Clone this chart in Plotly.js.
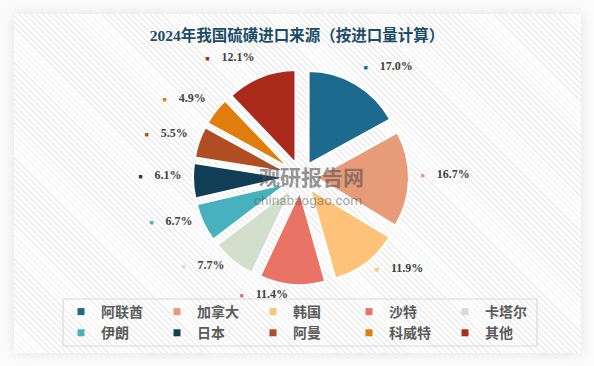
<!DOCTYPE html>
<html>
<head>
<meta charset="utf-8">
<script src="https://cdn.plot.ly/plotly-3.0.1.min.js"></script>
<style>
  html, body { margin: 0; padding: 0; background: #ffffff; }
  #wrap { position: relative; width: 594px; height: 366px; overflow: hidden; background: #fbfbfb; }
  #card {
    position: absolute; left: 14px; top: 14px; width: 567px; height: 339px;
    background-color: #ffffff;
    background-image: repeating-linear-gradient(45deg, #ffffff 0px, #ffffff 3px, #ececec 3px, #ececec 4.2px);
    box-shadow: 0 0 12px rgba(0,0,0,0.10);
  }
  #chart { position: absolute; left: 0; top: 0; width: 594px; height: 366px; }
</style>
</head>
<body>
<div id="wrap">
  <div id="card"></div>
  <div id="chart"></div>
</div>
<script>
// ---- data ----
const categories = ["阿联酋", "加拿大", "韩国", "沙特", "卡塔尔", "伊朗", "日本", "阿曼", "科威特", "其他"];
const shares = [17.0, 16.7, 11.9, 11.4, 7.7, 6.7, 6.1, 5.5, 4.9, 12.1];
const colors = ["#1c6b8e", "#e89b79", "#fec278", "#e97364", "#d1dfcc", "#47b2be", "#0f3e56", "#b04d22", "#e07d0b", "#aa2a1b"];
const chartTitle = "2024年我国硫磺进口来源（按进口量计算）";

// ---- geometry helpers (layout only) ----
const W = 594, H = 366, ML = 40, MR = 40;
const PW = W - ML - MR;
const fx = px => (px - ML) / PW;
const fy = py => (H - py) / H;

// ---- labels built from data ----
const labelText = shares.map((v, i) =>
  '<span style="color:' + colors[i] + ';font-size:7px">■</span>    ' + v.toFixed(1) + '%');

const pieTrace = {
  type: "pie",
  labels: categories,
  values: shares,
  textinfo: "none",
  sort: false,
  direction: "clockwise",
  rotation: 0,
  pull: 0.16,
  showlegend: false,
  hoverinfo: "label+percent",
  marker: { colors: colors, line: { color: "#ffffff", width: 2 } },
  domain: { x: [fx(193), fx(409)], y: [fy(285), fy(69)] },
  automargin: false
};

// same data, transparent wedges, used only to place the outside value labels a bit farther out
const labelPie = {
  type: "pie",
  labels: categories,
  values: shares,
  text: labelText,
  textinfo: "text",
  textposition: "outside",
  sort: false,
  direction: "clockwise",
  rotation: 0,
  pull: 0.16,
  showlegend: false,
  hoverinfo: "skip",
  marker: { colors: categories.map(() => "rgba(0,0,0,0)"), line: { width: 0 } },
  outsidetextfont: { family: '"Liberation Serif", "DejaVu Serif", serif', size: 12, color: "#404040", weight: "bold" },
  domain: { x: [fx(185), fx(417)], y: [fy(287), fy(55)] },
  automargin: false
};

// legend entries (one per category)
const legendTraces = categories.map((c, i) => ({
  type: "scatter",
  mode: "markers",
  x: [null], y: [null],
  name: c,
  marker: { symbol: "square", size: 7, color: colors[i] },
  hoverinfo: "skip"
}));

const layout = {
  width: W,
  height: H,
  margin: { l: ML, r: MR, t: 0, b: 0 },
  paper_bgcolor: "rgba(0,0,0,0)",
  plot_bgcolor: "rgba(0,0,0,0)",
  title: {
    text: chartTitle,
    font: { family: '"Liberation Serif", "Noto Sans CJK SC", serif', size: 15.5, color: "#1b4c66", weight: "bold" },
    x: 0.5, xref: "container", xanchor: "center",
    y: 0.902, yref: "container", yanchor: "middle"
  },
  xaxis: { visible: false },
  yaxis: { visible: false },
  showlegend: true,
  legend: {
    orientation: "h",
    entrywidth: 51,
    entrywidthmode: "pixels",
    x: fx(61), xanchor: "left",
    y: fy(296), yanchor: "top",
    bgcolor: "rgba(0,0,0,0)",
    borderwidth: 0,
    font: { family: '"Noto Sans CJK SC", sans-serif', size: 14, color: "#5a5a5a", weight: "bold" },
    traceorder: "normal"
  },
  shapes: [{
    type: "rect", xref: "paper", yref: "paper",
    x0: fx(63), x1: fx(537), y0: fy(346), y1: fy(299),
    line: { color: "#d9d9d9", width: 1.2 }, fillcolor: "rgba(0,0,0,0)", layer: "below"
  }],
  annotations: [
    { text: "观研报告网", showarrow: false, xref: "paper", yref: "paper", x: fx(311), y: fy(176),
      font: { family: '"Noto Sans CJK SC", sans-serif', size: 21, color: "rgba(80,80,80,0.6)", weight: "bold" } },
    { text: "chinabaogao.com", showarrow: false, xref: "paper", yref: "paper", x: fx(308), y: fy(200),
      font: { family: "Roboto, sans-serif", size: 13.5, color: "rgba(80,80,80,0.5)" } }
  ]
};

Plotly.newPlot("chart", [pieTrace, labelPie].concat(legendTraces), layout, { displayModeBar: false, staticPlot: true });
</script>
</body>
</html>
